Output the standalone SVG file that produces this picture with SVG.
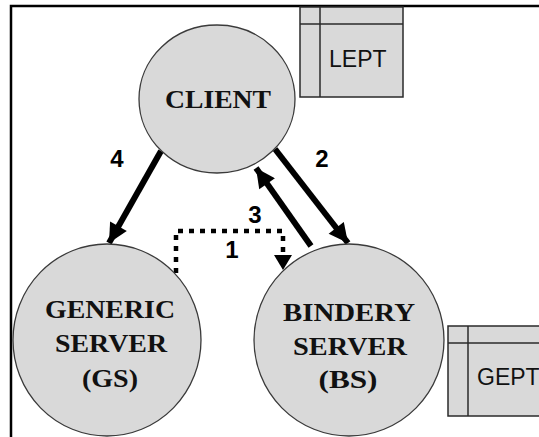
<svg xmlns="http://www.w3.org/2000/svg" width="539" height="437" viewBox="0 0 539 437">
  <style>
    .node { fill: #d9d9d9; stroke: #3a3a3a; stroke-width: 1.3; }
    .ntext { font-family: "Liberation Serif", "Times New Roman", serif; font-weight: bold; font-size: 26px; fill: #111; text-anchor: middle; }
    .table { fill: #d9d9d9; stroke: #2a2a2a; stroke-width: 1.5; }
    .tline { stroke: #2a2a2a; stroke-width: 1.5; }
    .ttext { font-family: "Liberation Sans", Arial, sans-serif; font-size: 23px; fill: #111; }
    .flow { stroke: #000; stroke-width: 6; fill: none; }
    .dots { stroke: #000; stroke-width: 4.5; fill: none; stroke-dasharray: 5 6; }
    .num { font-family: "Liberation Sans", Arial, sans-serif; font-weight: bold; font-size: 24px; fill: #000; text-anchor: middle; }
  </style>
  <defs>
    <marker id="head" viewBox="0 0 10 10" refX="10" refY="5" markerWidth="3.4" markerHeight="3.2" markerUnits="strokeWidth" orient="auto">
      <path d="M0,0 L10,5 L0,10 Z" fill="#000"/>
    </marker>
  </defs>

  <rect width="539" height="437" fill="#fff"/>
  <!-- outer frame, running off the right and bottom edges -->
  <rect x="11" y="6" width="600" height="500" fill="none" stroke="#000" stroke-width="2.5"/>

  <g id="connectors">
    <!-- 4: client to generic server -->
    <line class="flow" x1="161" y1="151" x2="109" y2="243" marker-end="url(#head)"/>
    <!-- 2: client to bindery server -->
    <line class="flow" x1="275" y1="149" x2="348" y2="243" marker-end="url(#head)"/>
    <!-- 3: bindery server back to client -->
    <line class="flow" x1="311" y1="246" x2="256" y2="168" marker-end="url(#head)"/>
    <!-- 1: generic server to bindery server (dotted) -->
    <path class="dots" d="M176,273 L176,231 L283,231 L283,256"/>
    <path d="M274,255 L292,255 L283,270 Z" fill="#000"/>
    <text class="num" x="117" y="167">4</text>
    <text class="num" x="322" y="167">2</text>
    <text class="num" x="255" y="223">3</text>
    <text class="num" x="232" y="258">1</text>
  </g>

  <g id="client">
    <ellipse class="node" cx="217" cy="99" rx="78" ry="74"/>
    <text class="ntext" x="218" y="108" textLength="106" lengthAdjust="spacingAndGlyphs">CLIENT</text>
  </g>

  <g id="generic-server">
    <ellipse class="node" cx="107" cy="340" rx="94" ry="96"/>
    <text class="ntext" x="110" y="318" textLength="130" lengthAdjust="spacingAndGlyphs">GENERIC</text>
    <text class="ntext" x="111" y="352" textLength="112" lengthAdjust="spacingAndGlyphs">SERVER</text>
    <text class="ntext" x="110" y="387" textLength="56" lengthAdjust="spacingAndGlyphs">(GS)</text>
  </g>

  <g id="bindery-server">
    <ellipse class="node" cx="349" cy="340" rx="95" ry="96"/>
    <text class="ntext" x="349" y="321" textLength="132" lengthAdjust="spacingAndGlyphs">BINDERY</text>
    <text class="ntext" x="350" y="355" textLength="114" lengthAdjust="spacingAndGlyphs">SERVER</text>
    <text class="ntext" x="348" y="388" textLength="59" lengthAdjust="spacingAndGlyphs">(BS)</text>
  </g>

  <g id="lept">
    <rect class="table" x="300" y="7" width="103" height="90"/>
    <line class="tline" x1="320" y1="7" x2="320" y2="97"/>
    <line class="tline" x1="300" y1="24" x2="403" y2="24"/>
    <text class="ttext" x="329" y="67">LEPT</text>
  </g>

  <g id="gept">
    <rect class="table" x="448" y="326" width="120" height="90"/>
    <line class="tline" x1="468" y1="326" x2="468" y2="416"/>
    <line class="tline" x1="448" y1="343" x2="568" y2="343"/>
    <text class="ttext" x="477" y="385" font-size="22">GEPT</text>
  </g>
</svg>
